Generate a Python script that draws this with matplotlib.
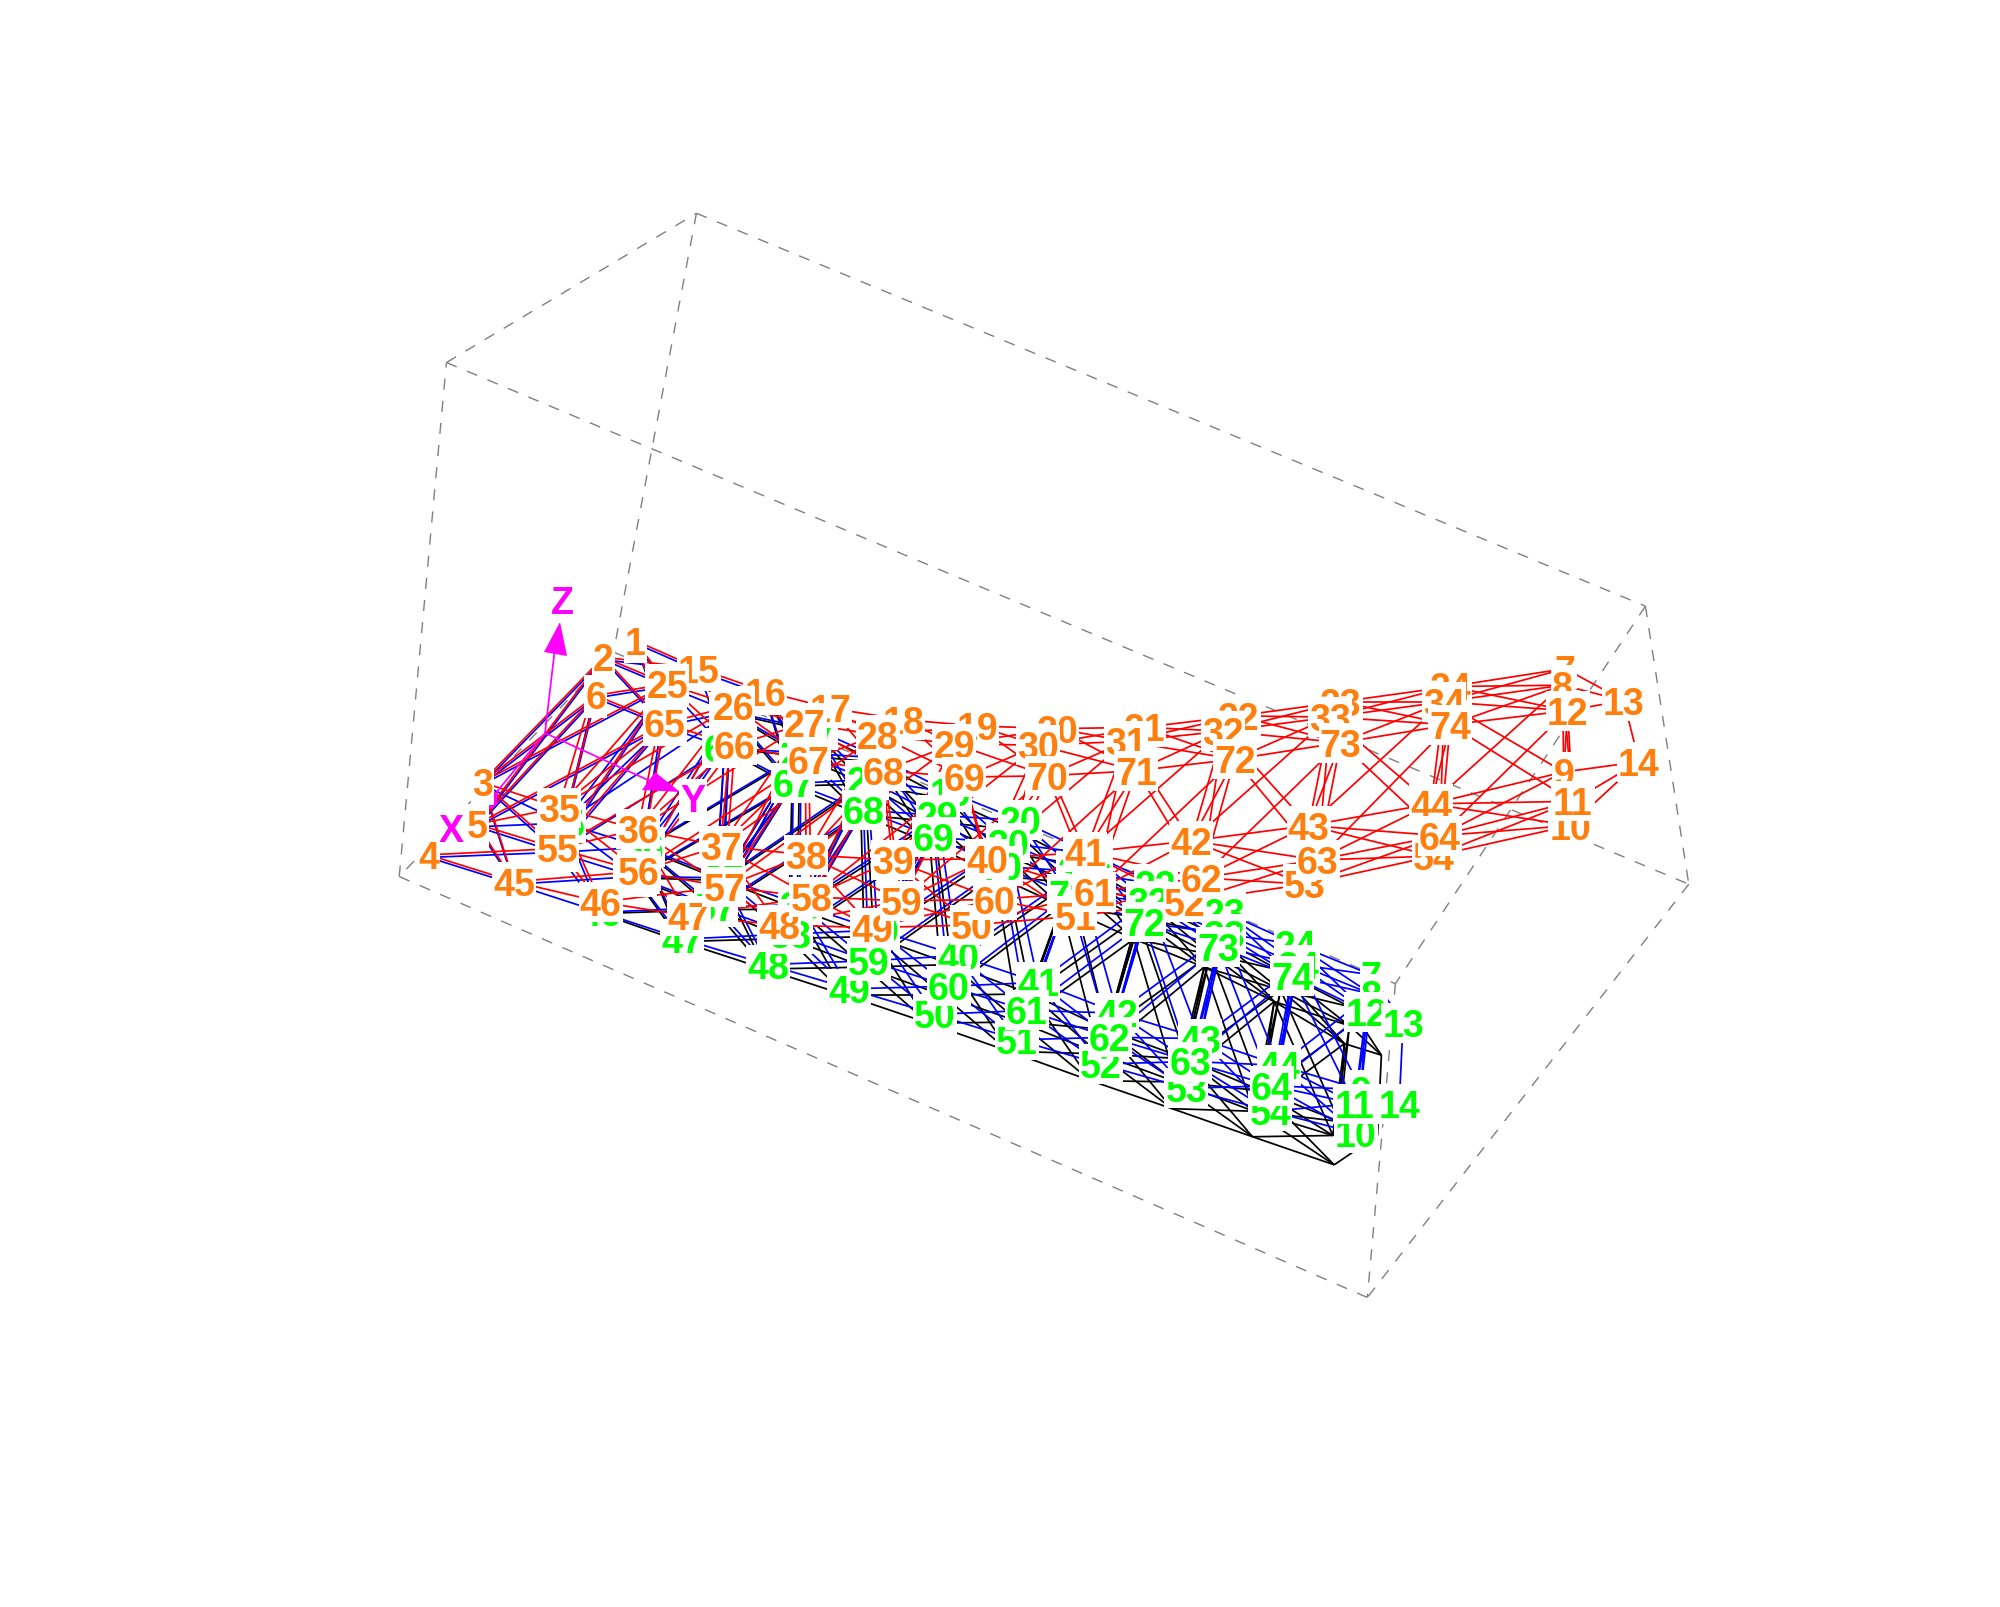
# plot.py
# mesh picture rebuilt from screen positions
import matplotlib
matplotlib.use("Agg")
import matplotlib.pyplot as plt
from matplotlib.patches import Polygon, Rectangle

plt.rcParams["font.family"] = ["Liberation Sans", "DejaVu Sans"]

# positions (1568 wide)
SCALE = 2000 / 1568

# node positions for labels 1..74
orange_x = [498, 473, 378, 336, 374, 467, 1227, 1225, 1226, 1231, 1233, 1229, 1273, 1285,
            548, 600, 651, 708, 766, 829, 897, 971, 1051, 1137,
            523, 575, 631, 688, 748, 814, 883, 959, 1043, 1132,
            438, 500, 565, 632, 700, 774, 851, 934, 1026, 1122,
            403, 471, 540, 611, 684, 762, 843, 929, 1023, 1124,
            437, 501, 568, 636, 707, 780, 858, 942, 1033, 1129,
            521, 576, 634, 693, 756, 821, 891, 968, 1051, 1137]
orange_y = [503, 516, 614, 671, 647, 546, 525, 538, 606, 648, 629, 558, 550, 598,
            525, 543, 556, 565, 570, 572, 571, 562, 551, 539,
            537, 554, 568, 577, 584, 585, 582, 574, 563, 551,
            634, 651, 664, 671, 675, 674, 669, 660, 648, 631,
            692, 708, 719, 726, 728, 726, 719, 708, 694, 672,
            666, 684, 696, 704, 707, 706, 700, 689, 675, 656,
            568, 585, 597, 605, 610, 609, 605, 596, 583, 569]

green_x = [498, 473, 378, 336, 374, 467, 1075, 1075, 1067, 1063, 1062, 1071, 1100, 1097,
           548, 600, 640, 690, 745, 800, 855, 906, 960, 1016,
           523, 573, 628, 680, 735, 790, 845, 900, 960, 1018,
           442, 504, 567, 627, 688, 751, 814, 876, 941, 1003,
           403, 471, 535, 602, 666, 733, 797, 863, 930, 996,
           437, 498, 561, 620, 681, 744, 805, 870, 933, 997,
           521, 568, 622, 677, 732, 785, 838, 897, 955, 1013]
green_y = [505, 518, 616, 673, 649, 548, 765, 780, 855, 889, 866, 794, 803, 866,
           527, 546, 573, 595, 622, 644, 670, 694, 716, 741,
           539, 559, 591, 612, 640, 662, 684, 707, 733, 757,
           646, 665, 689, 710, 730, 750, 771, 795, 815, 836,
           694, 716, 737, 757, 776, 796, 816, 835, 854, 872,
           669, 688, 712, 733, 754, 774, 793, 814, 833, 852,
           570, 587, 615, 636, 657, 680, 702, 724, 743, 766]

# black mesh sits off the green one, the shift grows along the columns
black_dx = [0, 0, 0, -1, -2, -3, -5, -6, -8, -11, -14, -17]
black_dy = [0, 0.5, 1, 2, 3.5, 5, 7, 9, 13, 16, 20, 25]

# rows of the mesh, each has 12 columns
row_a = [1, 15, 16, 17, 18, 19, 20, 21, 22, 23, 24, 7]
row_b = [2, 25, 26, 27, 28, 29, 30, 31, 32, 33, 34, 8]
row_c = [6, 65, 66, 67, 68, 69, 70, 71, 72, 73, 74, 12]
row_d = [3, 35, 36, 37, 38, 39, 40, 41, 42, 43, 44, 9]
row_e = [5, 55, 56, 57, 58, 59, 60, 61, 62, 63, 64, 11]
row_f = [4, 45, 46, 47, 48, 49, 50, 51, 52, 53, 54, 10]
rows = [row_a, row_b, row_c, row_d, row_e, row_f]

# edges that go from one column to the next
bays = [(row_a, row_a), (row_a, row_b), (row_b, row_a), (row_b, row_b), (row_a, row_c),
        (row_b, row_c), (row_c, row_b), (row_c, row_c),
        (row_d, row_d), (row_d, row_e), (row_e, row_d), (row_e, row_e), (row_d, row_f),
        (row_e, row_f), (row_f, row_e), (row_f, row_f),
        (row_b, row_d), (row_d, row_b), (row_c, row_e), (row_e, row_c)]
# edges inside one column
posts = [(row_b, row_d), (row_c, row_d), (row_b, row_e), (row_c, row_e)]
# the two end nodes
end_edges = [(13, 14), (7, 13), (8, 13), (12, 13), (9, 14), (11, 14), (10, 14)]

# corners of the dashed box
box_x = [313, 350, 546, 1290, 1324, 1072, 1094, 481]
box_y = [688, 285, 168, 476, 694, 1018, 772, 512]
box_edges = [(0, 1), (1, 2), (2, 3), (3, 4), (4, 5), (5, 0), (1, 4), (3, 6), (6, 5), (2, 7), (7, 0), (7, 6)]


def make_edges():
    edges = []
    for r0, r1 in bays:
        for i in range(11):
            edges.append((r0[i], r1[i + 1]))
    for r0, r1 in posts:
        for i in range(12):
            edges.append((r0[i], r1[i]))
    return edges + end_edges


def draw_edges(ax, edges, xs, ys, color, z):
    for a, b in edges:
        ax.plot([xs[a - 1] * SCALE, xs[b - 1] * SCALE], [ys[a - 1] * SCALE, ys[b - 1] * SCALE],
                color=color, lw=1.25, zorder=z, solid_capstyle="butt")


def draw_labels(ax, xs, ys, color, z):
    for i in range(74):
        n = str(i + 1)
        w = 23 if len(n) == 1 else 44
        x = xs[i] * SCALE
        y = ys[i] * SCALE
        ax.add_patch(Rectangle((x - w / 2, y - 20), w, 40, fc="white", ec="none", zorder=z + i * 0.01))
        ax.text(x, y + 13, n, color=color, fontsize=27, fontweight="bold", ha="center",
                va="baseline", zorder=z + i * 0.01 + 0.001)


# column of each node, 13 and 14 sit past the last one
column = {13: 11, 14: 11}
for r in rows:
    for c, n in enumerate(r):
        column[n] = c
black_x = [green_x[n - 1] + black_dx[column[n]] for n in range(1, 75)]
black_y = [green_y[n - 1] + black_dy[column[n]] for n in range(1, 75)]

fig = plt.figure(figsize=(20, 16.08), dpi=100)
ax = fig.add_axes([0, 0, 1, 1])
ax.set_xlim(0, 2000)
ax.set_ylim(1608, 0)
ax.axis("off")

# dashed box
for a, b in box_edges:
    ax.plot([box_x[a] * SCALE, box_x[b] * SCALE], [box_y[a] * SCALE, box_y[b] * SCALE],
            color="#808080", lw=1.0, ls=(0, (8, 8)), zorder=1)

all_edges = make_edges()
# at the fixed end the black mesh stays hidden under the blue one
black_edges = [e for e in all_edges if max(column[e[0]], column[e[1]]) > 2]
draw_edges(ax, black_edges, black_x, black_y, "black", 2)
draw_edges(ax, all_edges, green_x, green_y, "#0000ff", 3)
draw_edges(ax, all_edges, orange_x, orange_y, "#ff0000", 4)

# axis triad
MAGENTA = "#ff00ff"
origin = (545, 734)
ax.plot([origin[0], 556], [origin[1], 640], color=MAGENTA, lw=1.25, zorder=5)
ax.plot([origin[0], 650], [origin[1], 782], color=MAGENTA, lw=1.25, zorder=5)
ax.plot([origin[0], 495], [origin[1], 795], color=MAGENTA, lw=1.25, zorder=5)
ax.add_patch(Polygon([(560, 623), (544, 653), (567, 657)], fc=MAGENTA, ec="none", zorder=5))
ax.add_patch(Polygon([(680, 793), (642, 791), (655, 773)], fc=MAGENTA, ec="none", zorder=5))
ax.add_patch(Polygon([(470, 820), (498, 793), (497, 806)], fc=MAGENTA, ec="none", zorder=5))

draw_labels(ax, green_x, green_y, "#00ff00", 6)

for s, x, y in [("X", 451, 842), ("Y", 693, 812), ("Z", 562, 614)]:
    ax.add_patch(Rectangle((x - 14, y - 32), 28, 42, fc="white", ec="none", zorder=7.5))
    ax.text(x, y, s, color=MAGENTA, fontsize=27, fontweight="bold", ha="center", va="baseline", zorder=7.6)

draw_labels(ax, orange_x, orange_y, "#ff7f0e", 8)

fig.savefig("out.png", dpi=100)
